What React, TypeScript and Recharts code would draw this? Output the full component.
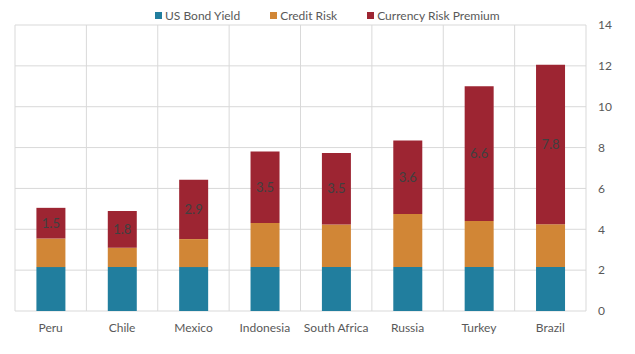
import React from 'react';
import { BarChart, Bar, XAxis, YAxis, CartesianGrid, Legend, LabelList } from 'recharts';

const countries = ['Peru', 'Chile', 'Mexico', 'Indonesia', 'South Africa', 'Russia', 'Turkey', 'Brazil'];
const usBondYield = [2.15, 2.15, 2.15, 2.15, 2.15, 2.15, 2.15, 2.15];
const creditRisk = [1.4, 0.95, 1.37, 2.16, 2.08, 2.6, 2.25, 2.1];
const currencyRiskPremium = [1.5, 1.8, 2.9, 3.5, 3.5, 3.6, 6.6, 7.8];
const yTicks = [0, 2, 4, 6, 8, 10, 12, 14];
const seriesNames = ['US Bond Yield', 'Credit Risk', 'Currency Risk Premium'];
const seriesColors = ['#217e9e', '#d18636', '#9d2532'];

const data = countries.map((c, i) => ({
  country: c,
  bond: usBondYield[i],
  credit: creditRisk[i],
  currency: currencyRiskPremium[i],
}));

const FONT = 'Lato, "Open Sans", sans-serif';
const TEXT = '#595959';

const renderLegend = () => {
  return (
    <div style={{ display: 'flex', justifyContent: 'flex-start', paddingLeft: 140, fontFamily: FONT, fontSize: 12, color: TEXT, height: 20, alignItems: 'center' }}>
      {seriesNames.map((name, i) => (
        <div key={i} style={{ display: 'flex', alignItems: 'center', marginRight: 30 }}>
          <span style={{ display: 'inline-block', width: 7, height: 7, background: seriesColors[i], marginRight: 3 }} />
          <span>{name}</span>
        </div>
      ))}
    </div>
  );
};

export default function App() {
  return (
    <div style={{ position: 'absolute', left: 0, top: 0, width: 635, height: 354, background: '#fff' }}>
      <BarChart
        width={635}
        height={354}
        data={data}
        margin={{ top: 5, right: 0, bottom: 13, left: 15 }}
        barCategoryGap="30%"
      >
        <CartesianGrid
          stroke="#d9d9d9"
          strokeWidth={1}
          verticalCoordinatesGenerator={({ offset }: any) => {
            const n = countries.length;
            const arr: number[] = [];
            for (let i = 0; i <= n; i++) arr.push(offset.left + (i * offset.width) / n);
            return arr;
          }}
        />
        <XAxis
          dataKey="country"
          axisLine={false}
          tickLine={false}
          tickSize={0}
          tickMargin={12}
          height={30}
          tick={{ fill: TEXT, fontSize: 12, fontFamily: FONT }}
        />
        <YAxis
          orientation="right"
          domain={[0, 14]}
          ticks={yTicks}
          axisLine={false}
          tickLine={false}
          tickSize={0}
          tickMargin={12}
          width={49}
          tick={{ fill: TEXT, fontSize: 12, fontFamily: FONT, textAnchor: 'start' }}
        />
        <Legend verticalAlign="top" height={20} content={renderLegend} />
        <Bar dataKey="bond" name={seriesNames[0]} stackId="a" fill={seriesColors[0]} isAnimationActive={false} />
        <Bar dataKey="credit" name={seriesNames[1]} stackId="a" fill={seriesColors[1]} isAnimationActive={false} />
        <Bar dataKey="currency" name={seriesNames[2]} stackId="a" fill={seriesColors[2]} isAnimationActive={false}>
          <LabelList dataKey="currency" position="center" fill="#404040" fontSize={13} fontFamily={FONT} />
        </Bar>
      </BarChart>
    </div>
  );
}
